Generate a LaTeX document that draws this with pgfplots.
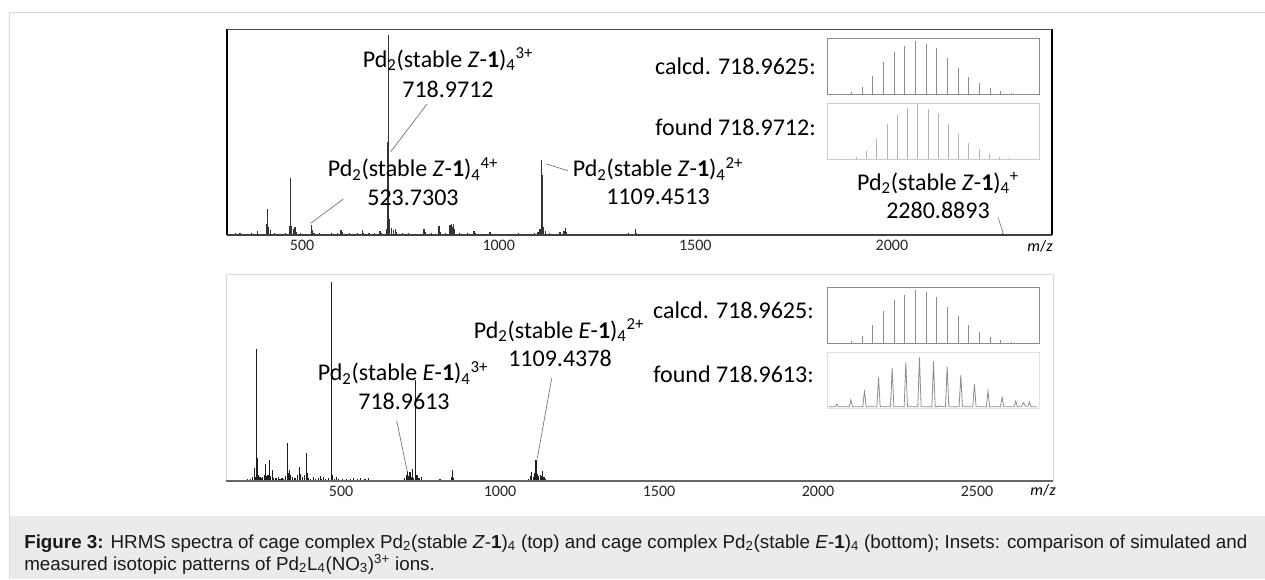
\documentclass[border=0pt]{standalone}
\usepackage{pgfplots}
\pgfplotsset{compat=1.18}
\usepackage{fontspec}
\setmainfont{Carlito}
\newfontfamily\capfont{Liberation Sans}
\definecolor{frameg}{HTML}{D9D9D9}
\definecolor{capg}{HTML}{EBEBEB}
\definecolor{specg}{HTML}{333333}
\definecolor{leadg}{HTML}{707070}
\definecolor{calcg}{HTML}{8C8C8C}
\definecolor{foundg}{HTML}{B4B4B4}

\pgfplotstableread{
mz I
330 0.8
342 1.2
355 0.6
372 0.8
386 2.0
398 0.7
409 5.5
412 12.5
415 4.0
419 2.5
430 0.8
445 0.6
458 0.8
467 3.5
469 4.5
471 27.5
474 4.5
478 3.0
482 4.0
486 1.5
495 0.8
510 0.7
523.7 5.0
526 2.5
530 1.2
545 0.8
560 0.7
575 1.0
590 1.2
599 2.5
602 1.5
620 0.8
640 1.0
653 2.5
656 1.2
670 0.8
685 0.9
698 2.0
702 1.0
715 3.0
718.3 45
718.97 97
719.6 44
722 8
727 3.5
733 2.5
738 3.0
741 1.5
755 0.8
770 0.9
790 0.7
810 3.0
813 1.5
830 0.8
848 4.5
851 1.5
865 1.0
876 5.0
879 5.5
881 4.0
884 5.5
887 3.0
900 1.0
920 0.8
937 2.0
940 1.0
960 0.7
978 1.5
990 0.7
1010 0.6
1030 0.7
1050 0.8
1070 0.6
1090 0.8
1100 1.5
1105 3.0
1108.5 30
1109.45 36.4
1110.5 29
1113 4
1118 2
1130 0.8
1145 0.7
1156 1.5
1166 2.0
1169 3.5
1172 1.5
1190 0.6
1210 0.5
1240 0.6
1270 0.5
1300 0.7
1330 0.8
1347 3.0
1350 1.0
1380 0.6
1420 0.5
1460 0.5
1500 0.6
1540 0.4
1580 0.5
1620 0.4
1700 0.3
1800 0.3
1900 0.3
2000 0.2
2280.9 0.8
}\topspec

\pgfplotstableread{
mz I
205 0.8
215 1.0
222 2.0
227 6.5
231 2.0
235 63.8
237 11
241 3.0
245 2.0
250 1.5
253 2.0
258 3.0
261 8.0
265 2.5
270 3.0
274 10.0
278 2.5
284 5.5
288 1.5
295 1.5
302 2.0
308 1.0
314 1.5
320 1.0
325 2.5
331 18.5
334 4.0
337 5.5
341 3.0
347 2.0
355 1.5
363 3.0
368 7.0
372 3.5
378 2.0
386 3.0
390 13.4
393 4.0
398 1.5
405 1.0
413 2.0
420 1.0
428 1.5
434 2.5
438 1.0
444 2.0
452 1.0
460 1.5
469 12.5
471 96.3
474 3.0
480 1.0
486 2.0
492 1.0
505 0.8
518 1.2
530 0.8
540 1.5
552 1.0
560 1.5
575 0.8
586 1.5
600 0.6
620 0.5
650 0.6
680 0.6
700 1.5
705 3.0
709 5.0
713 2.5
717 4.5
721 2.0
724 6.0
728 1.5
735 48.8
739 3.0
745 1.5
752 2.0
770 0.6
790 0.5
811 1.0
830 0.5
847 2.0
850 5.5
853 1.5
870 0.5
900 0.5
950 0.4
1000 0.4
1050 0.5
1090 1.0
1097 2.5
1100 4.5
1105 2.0
1110 4.0
1113 10.0
1117 3.5
1121 2.5
1126 3.0
1130 2.5
1134 5.0
1138 2.0
1143 1.0
1150 0.6
1200 0.4
1300 0.4
1400 0.3
1500 0.3
1600 0.3
1800 0.3
2000 0.3
2330 0.7
2500 0.2
}\botspec

\pgfplotstableread{
mz I
715.97 1.0
716.30 4
716.64 12.5
716.97 33
717.30 58
717.64 76
717.97 86
718.30 96
718.64 90
718.97 82
719.30 64
719.64 47
719.97 31.5
720.30 19.6
720.64 10.7
720.97 5.4
721.30 1.8
721.64 0.6
}\calcdtop

\pgfplotstableread{
mz I
716.14 1
716.47 5
716.78 15
717.10 36
717.43 63
717.74 79
718.05 91
718.37 98
718.70 90
719.01 83
719.35 63
719.66 45
719.97 30
720.30 18
720.62 9.5
720.93 5
721.26 2
}\foundtop

\pgfplotstableread{
mz I
715.97 0.6
716.30 5
716.64 13
716.97 33.5
717.30 58
717.64 77
717.97 87
718.30 96
718.64 91
718.97 83
719.30 65
719.64 48
719.97 32
720.30 20
720.64 11
720.97 5.4
721.30 1.8
721.64 0.6
}\calcdbot

\pgfplotstableread{
mz I
715.80 2.4
715.96 2.4
716.00 7.2
716.04 2.4
716.30 2.4
716.34 14.4
716.38 2.4
716.63 2.4
716.67 32.3
716.71 2.4
716.97 2.4
717.01 54.5
717.05 2.4
717.30 2.4
717.34 71.3
717.38 2.4
717.63 2.4
717.67 81.4
717.71 2.4
717.96 2.4
718.00 90.4
718.04 2.4
718.30 2.4
718.34 83.2
718.38 2.4
718.46 2.6
718.50 4.0
718.54 2.4
718.63 2.4
718.67 74.3
718.71 2.4
718.96 2.4
719.00 58.7
719.04 2.4
719.29 2.4
719.33 43.1
719.37 2.4
719.62 2.4
719.66 29.9
719.70 2.4
719.96 2.4
720.00 19.2
720.04 2.4
720.29 2.4
720.33 12.6
720.37 2.4
720.47 2.4
720.52 9.6
720.56 3.0
720.62 3.0
720.66 10.8
720.70 2.4
720.85 2.4
}\foundbot

\pgfplotsset{
  spec/.style={scale only axis, anchor=south west, ymin=0, ymax=100,
    axis line style={draw=none}, ytick=\empty, major tick length=0pt,
    xticklabel style={font=\fontsize{12}{14}\selectfont, text=black!85},
    clip=false},
  inset/.style={scale only axis, anchor=south west, ymin=0, ymax=100,
    xmin=715.55, xmax=722.18, xtick=\empty, ytick=\empty,
    width=159pt, height=42pt},
}

\begin{document}
\begin{tikzpicture}
\begin{scope}[x=0.75pt,y=-0.75pt]
\useasboundingbox (0,0) rectangle (1265,579);
\fill[capg] (9,516) rectangle (1265,579);
\draw[frameg, line width=0.75pt] (9,579) -- (9,12) -- (1265,12);
\end{scope}

% ---------- top spectrum ----------
\begin{axis}[spec, at={(227*0.75pt,-235*0.75pt)}, width=618.75pt, height=154.5pt,
  xmin=309, xmax=2407, xtick={500,1000,1500,2000}, xticklabels={500,1000,1500,2000}]
\addplot[ycomb, draw=specg, line width=0.9pt] table[x=mz,y=I] {\topspec};
\draw[black, line width=1.5pt] (rel axis cs:0,0) -- (rel axis cs:0,1);
\draw[black, line width=1.5pt] (rel axis cs:1,0) -- (rel axis cs:1,1);
\draw[black!70, line width=0.6pt] (rel axis cs:0,1) -- (rel axis cs:1,1);
\draw[black!75, line width=0.8pt] (rel axis cs:0,0) -- (rel axis cs:1,0);
\end{axis}

% ---------- bottom spectrum ----------
\begin{axis}[spec, at={(226*0.75pt,-481*0.75pt)}, width=620.25pt, height=155.25pt,
  xmin=138, xmax=2739, xtick={500,1000,1500,2000,2500}, xticklabels={500,1000,1500,2000,2500}]
\addplot[ycomb, draw=black!88, line width=0.9pt] table[x=mz,y=I] {\botspec};
\draw[frameg, line width=0.75pt] (rel axis cs:0,0) -- (rel axis cs:0,1) -- (rel axis cs:1,1) -- (rel axis cs:1,0);
\draw[black!60, line width=0.8pt] (rel axis cs:0,0) -- (rel axis cs:1,0);
\end{axis}

% ---------- insets ----------
\begin{axis}[inset, at={(827.3*0.75pt,-94.3*0.75pt)}, axis line style={draw=calcg, line width=0.6pt}]
\addplot[ycomb, draw=calcg, line width=0.6pt] table[x=mz,y=I] {\calcdtop};
\end{axis}
\begin{axis}[inset, at={(827.3*0.75pt,-159.3*0.75pt)}, axis line style={draw=black!20, line width=0.6pt}]
\addplot[ycomb, draw=foundg, line width=0.6pt] table[x=mz,y=I] {\foundtop};
\end{axis}
\begin{axis}[inset, at={(827.3*0.75pt,-343.3*0.75pt)}, axis line style={draw=calcg, line width=0.6pt}]
\addplot[ycomb, draw=calcg, line width=0.6pt] table[x=mz,y=I] {\calcdbot};
\end{axis}
\begin{axis}[inset, at={(827.3*0.75pt,-408*0.75pt)}, xmin=715.77, xmax=720.90, axis line style={draw=black!12, line width=0.6pt}]
\addplot[draw=calcg, line width=0.6pt] table[x=mz,y=I] {\foundbot};
\end{axis}

% ---------- annotations ----------
\begin{scope}[x=0.75pt,y=-0.75pt, every node/.style={inner sep=0pt, font=\fontsize{18}{20}\selectfont}]
\draw[leadg, line width=0.5pt] (427,104) -- (390.7,151.7);
\draw[leadg, line width=0.5pt] (343.3,199) -- (310.7,223.3);
\draw[leadg, line width=0.5pt] (567.7,170.7) -- (546.7,164);
\draw[leadg, line width=0.5pt] (998.3,218.3) -- (1003.3,233.3);
\draw[leadg, line width=0.5pt] (396.7,420.7) -- (407.3,471.7);
\draw[leadg, line width=0.5pt] (551.7,378.3) -- (537.3,458.3);

\node[anchor=base] at (448,67) {Pd\textsubscript{2}(stable \textit{Z}-\textbf{1})\textsubscript{4}\textsuperscript{3+}};
\node[anchor=base] at (448,97) {718.9712};
\node[anchor=base] at (413,176.7) {Pd\textsubscript{2}(stable \textit{Z}-\textbf{1})\textsubscript{4}\textsuperscript{4+}};
\node[anchor=base] at (413,205) {523.7303};
\node[anchor=base] at (658,176.7) {Pd\textsubscript{2}(stable \textit{Z}-\textbf{1})\textsubscript{4}\textsuperscript{2+}};
\node[anchor=base] at (658,204) {1109.4513};
\node[anchor=base] at (938,190) {Pd\textsubscript{2}(stable \textit{Z}-\textbf{1})\textsubscript{4}\textsuperscript{+}};
\node[anchor=base] at (938,218) {2280.8893};
\node[anchor=base east] at (816,74) {calcd. 718.9625:};
\node[anchor=base east] at (816,135) {found 718.9712:};

\node[anchor=base] at (403,380.7) {Pd\textsubscript{2}(stable \textit{E}-\textbf{1})\textsubscript{4}\textsuperscript{3+}};
\node[anchor=base] at (404,409.3) {718.9613};
\node[anchor=base] at (559,338.3) {Pd\textsubscript{2}(stable \textit{E}-\textbf{1})\textsubscript{4}\textsuperscript{2+}};
\node[anchor=base] at (560,366.7) {1109.4378};
\node[anchor=base east] at (814,318.3) {calcd. 718.9625:};
\node[anchor=base east] at (814,382.3) {found 718.9613:};

\node[anchor=base, font=\fontsize{12}{14}\selectfont] at (1040,251.5) {\textit{m}/\textit{z}};
\node[anchor=base, font=\fontsize{12}{14}\selectfont] at (1043,495) {\textit{m}/\textit{z}};

\node[anchor=base west, font=\capfont\fontsize{14.1}{16}\selectfont, text=black!90] at (24,548) {\textbf{Figure 3:} HRMS spectra of cage complex Pd\textsubscript{2}(stable \textit{Z}-\textbf{1})\textsubscript{4} (top) and cage complex Pd\textsubscript{2}(stable \textit{E}-\textbf{1})\textsubscript{4} (bottom); Insets: comparison of simulated and};
\node[anchor=base west, font=\capfont\fontsize{14.1}{16}\selectfont, text=black!90] at (24,570) {measured isotopic patterns of Pd\textsubscript{2}L\textsubscript{4}(NO\textsubscript{3})\textsuperscript{3+} ions.};
\end{scope}
\end{tikzpicture}
\end{document}
